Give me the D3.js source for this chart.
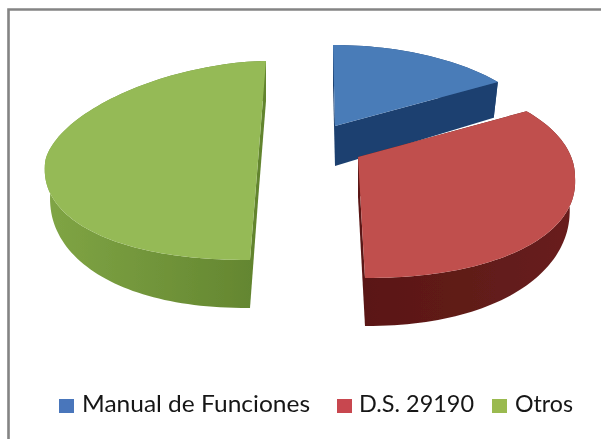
<!DOCTYPE html>
<html><head><meta charset="utf-8">
<script src="https://cdnjs.cloudflare.com/ajax/libs/d3/7.8.5/d3.min.js"></script>
<style>html,body{margin:0;padding:0;background:#fff}svg{display:block}</style></head>
<body><svg id="c" width="601" height="439"></svg>
<script>
const categories = ["Manual de Funciones", "D.S. 29190", "Otros"];
const values = [14, 36, 50];
const topColors = ["#4a7cb8", "#c0504d", "#95ba57"];
const wallLight = ["#264f80", "#681f1d", "#80a545"];
const wallDark = ["#1d4170", "#5a1715", "#62842f"];
const legendColors = ["#4a76bb", "#c8464f", "#9aba50"];

const svg = d3.select("#c");
const defs = svg.append("defs");
defs.append("filter").attr("id","soft").append("feGaussianBlur").attr("stdDeviation",0.7);
const blur = defs.append("filter").attr("id","textsoft");
blur.append("feGaussianBlur").attr("stdDeviation",0.35);

// Frame
svg.append("path").attr("d","M8.5,439V9.5H601").attr("fill","none").attr("stroke","#848484").attr("stroke-width",2.6).attr("filter","url(#textsoft)");

// Per-slice drawing geometry: apex, level of the widest point, radii, shape exponents
const geom = [
  {apex:[335,126], lvl:[335,147], R:213, ryT:102, ryB:97,  eT:2.0,  eB:2.2,  shT:-2, shB:0},
  {apex:[358,157], lvl:[359,177], R:216, ryT:102, ryB:101, eT:2.05, eB:2.15, shT:0,  shB:6},
  {apex:[258,161], lvl:[258,163], R:213, ryT:102, ryB:97,  eT:1.75, eB:2.2,  shT:8,  shB:-8}
];
const APEX_DEPTH = 40, INSET = 0.025;

function rim(g, a, lower) {
  const s = Math.sin(a), c = Math.cos(a), e = c > 0 ? g.eT : g.eB;
  const X = g.R*Math.sign(s)*Math.pow(Math.abs(s), 2/e);
  const Yn = Math.sign(c)*Math.pow(Math.abs(c), 2/e);
  const Y = (c > 0 ? g.ryT : g.ryB)*Yn;
  const sh = c > 0 ? g.shT*Yn : -g.shB*Yn;
  if (!lower) return [g.lvl[0]+X+sh, g.lvl[1]-Y];
  const d = c > 0 ? 28+12*c : 28-20*c;
  return [g.lvl[0]+X*(1-INSET)+sh, g.lvl[1]-Y+d];
}
const pie = d3.pie().sort(null).value(d=>d);
const arcs = pie(values);
const line = d3.line();
function arcPts(g, a0, a1, lower) {
  const n = Math.max(2, Math.ceil(Math.abs(a1-a0)/0.03));
  return d3.range(n+1).map(i => rim(g, a0+(a1-a0)*i/n, lower));
}
const group = svg.append("g").attr("filter","url(#soft)");
[0,2,1].forEach(i => {
  const g = geom[i], a = arcs[i];
  const grad = defs.append("linearGradient").attr("id","w"+i)
    .attr("x1", i==2?0:1).attr("x2", i==2?1:0).attr("y1",0).attr("y2",0);
  grad.append("stop").attr("offset",0).attr("stop-color",wallLight[i]);
  grad.append("stop").attr("offset",1).attr("stop-color",wallDark[i]);
  const ap0 = g.apex, ap1 = [g.apex[0], g.apex[1]+APEX_DEPTH];
  // outer wall
  group.append("path").attr("d",line(arcPts(g,a.startAngle,a.endAngle,false).concat(arcPts(g,a.endAngle,a.startAngle,true)))+"Z")
    .attr("fill","url(#w"+i+")");
  // radial walls
  [a.startAngle,a.endAngle].forEach(an => {
    group.append("path").attr("d",line([ap0,rim(g,an,false),rim(g,an,true),ap1])+"Z").attr("fill",wallDark[i]);
  });
  // top face
  group.append("path").attr("d",line([ap0].concat(arcPts(g,a.startAngle,a.endAngle,false)))+"Z").attr("fill",topColors[i]);
});

// Legend
const swatchX = [59, 337, 492], textX = [82, 359, 515], textW = [228, 115, 58];
const lg = svg.append("g").attr("filter","url(#textsoft)");
categories.forEach((t,i)=>{
  lg.append("rect").attr("x",swatchX[i]).attr("y",399).attr("width",15).attr("height",14).attr("fill",legendColors[i]);
  lg.append("text").attr("x",textX[i]).attr("y",412).text(t)
    .attr("font-family","Lato, 'Open Sans', sans-serif").attr("font-size",23.5).attr("fill","#151515")
    .attr("textLength",textW[i]).attr("lengthAdjust","spacingAndGlyphs");
});
</script></body></html>
